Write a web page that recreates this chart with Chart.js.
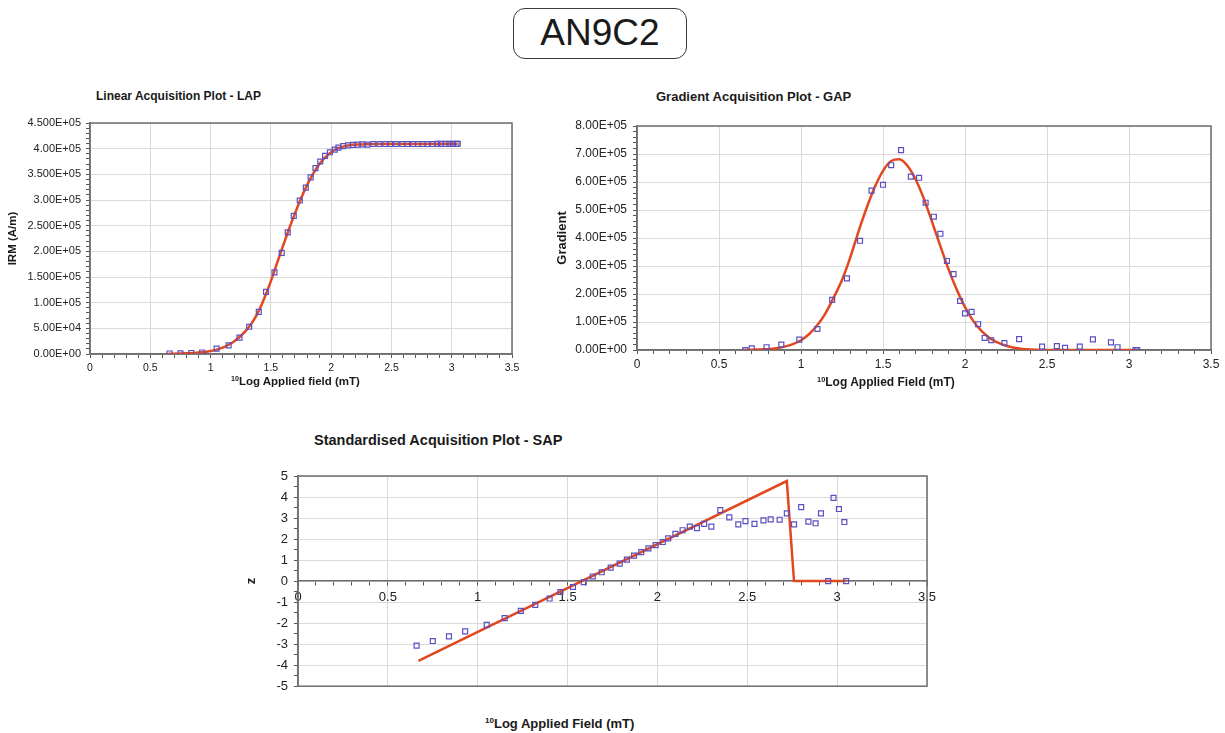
<!DOCTYPE html>
<html lang="en">
<head>
    <meta charset="UTF-8">
    <title>AN9C2 - IRM acquisition</title>
    <script src="https://cdn.jsdelivr.net/npm/chart.js"></script>
    <style>
        body { margin: 0; background: #fff; font-family: "Liberation Sans", Arial, sans-serif; color: #1a1a1a; }
        .page { position: relative; width: 1225px; height: 733px; overflow: hidden; }
        .box { position: absolute; }
        .label { position: absolute; font-weight: bold; white-space: nowrap; line-height: 1; }
        .label sup { font-size: 0.62em; position: relative; top: -0.05em; vertical-align: top; }
        .sample {
            position: absolute; left: 513px; top: 8px; width: 174px; height: 51px;
            box-sizing: border-box; border: 1.5px solid #3a3a3a; border-radius: 12px;
            text-align: center; font-size: 37px; line-height: 48px;
        }
    </style>
</head>
<body>
<div class="page">
    <div class="sample">AN9C2</div>

    <div class="label" style="left:96px; top:90px; font-size:12px;">Linear Acquisition Plot - LAP</div>
    <div class="label" style="left:656px; top:90px; font-size:13px;">Gradient Acquisition Plot - GAP</div>
    <div class="label" style="left:314px; top:433px; font-size:14.5px;">Standardised Acquisition Plot - SAP</div>

    <div class="box" style="left:0; top:110px; width:525px; height:275px;"><canvas id="lapChart"></canvas></div>
    <div class="box" style="left:540px; top:110px; width:685px; height:275px;"><canvas id="gapChart"></canvas></div>
    <div class="box" style="left:235px; top:460px; width:720px; height:240px;"><canvas id="sapChart"></canvas></div>

    <div class="label" style="left:231px; top:376px; font-size:11.5px;"><sup>10</sup>Log Applied field (mT)</div>
    <div class="label" style="left:817px; top:376px; font-size:12px;"><sup>10</sup>Log Applied Field (mT)</div>
    <div class="label" style="left:485px; top:717px; font-size:13px;"><sup>10</sup>Log Applied Field (mT)</div>
</div>

<script>
    // log10 of applied field (mT) for the measured steps
    const fieldLog = [0.66, 0.75, 0.84, 0.93, 1.05, 1.15, 1.24, 1.32, 1.40, 1.46, 1.53, 1.59, 1.64, 1.69, 1.74, 1.79,
        1.83, 1.87, 1.91, 1.95, 1.99, 2.03, 2.06, 2.10, 2.14, 2.18, 2.22, 2.26, 2.30, 2.35, 2.40, 2.45, 2.49, 2.54,
        2.59, 2.63, 2.68, 2.72, 2.76, 2.80, 2.84, 2.88, 2.91, 2.95, 2.98, 3.01, 3.04, 3.05];

    // IRM (A/m) measured at each step
    const irm = [1.0e3, 1.3e3, 2.0e3, 3.0e3, 1.04e4, 1.69e4, 3.18e4, 5.3e4, 8.2e4, 1.21e5, 1.59e5, 1.97e5, 2.37e5,
        2.69e5, 2.99e5, 3.24e5, 3.44e5, 3.62e5, 3.75e5, 3.86e5, 3.93e5, 3.98e5, 4.02e5, 4.05e5, 4.065e5, 4.075e5,
        4.08e5, 4.085e5, 4.08e5, 4.09e5, 4.09e5, 4.09e5, 4.09e5, 4.09e5, 4.09e5, 4.09e5, 4.09e5, 4.09e5, 4.09e5,
        4.09e5, 4.09e5, 4.092e5, 4.092e5, 4.092e5, 4.093e5, 4.094e5, 4.095e5, 4.095e5];

    // standardised z at each step
    const sapZ = [-3.07, -2.85, -2.63, -2.39, -2.08, -1.76, -1.42, -1.13, -0.83, -0.52, -0.28, -0.05, 0.22, 0.42,
        0.64, 0.83, 1.02, 1.21, 1.38, 1.56, 1.71, 1.86, 2.03, 2.25, 2.42, 2.59, 2.52, 2.72, 2.59, 3.38, 3.03, 2.70,
        2.85, 2.72, 2.89, 2.94, 2.92, 3.22, 2.70, 3.52, 2.83, 2.75, 3.22, 0, 3.96, 3.43, 2.81, 0];

    // gradient points
    const gapField = [0.66, 0.70, 0.79, 0.88, 0.99, 1.10, 1.19, 1.28, 1.36, 1.43, 1.50, 1.55, 1.61, 1.67, 1.72, 1.76,
        1.81, 1.85, 1.89, 1.93, 1.97, 2.00, 2.04, 2.08, 2.12, 2.16, 2.24, 2.33, 2.47, 2.56, 2.61, 2.70, 2.78, 2.89,
        2.93, 3.04, 3.05];
    const gapValue = [0, 6e3, 1.0e4, 1.9e4, 3.7e4, 7.5e4, 1.79e5, 2.56e5, 3.90e5, 5.69e5, 5.90e5, 6.60e5, 7.14e5,
        6.19e5, 6.15e5, 5.26e5, 4.76e5, 4.15e5, 3.18e5, 2.71e5, 1.75e5, 1.31e5, 1.36e5, 9.2e4, 4.3e4, 3.5e4, 2.5e4,
        3.9e4, 1.2e4, 1.4e4, 8e3, 1.2e4, 3.8e4, 2.7e4, 1.0e4, 0, 0];

    // fitted component (cumulative curve)
    const lapFitField = [0.65, 0.70, 0.75, 0.80, 0.85, 0.90, 0.95, 1.00, 1.05, 1.10, 1.15, 1.20, 1.25, 1.30, 1.35,
        1.40, 1.45, 1.50, 1.55, 1.60, 1.65, 1.70, 1.75, 1.80, 1.85, 1.90, 1.95, 2.00, 2.05, 2.10, 2.15, 2.20, 2.30,
        2.40, 2.60, 2.80, 3.05];
    const lapFit = [5e2, 7e2, 1.0e3, 1.4e3, 2.0e3, 2.8e3, 4.0e3, 5.8e3, 8.5e3, 1.25e4, 1.8e4, 2.55e4, 3.5e4, 4.75e4,
        6.3e4, 8.4e4, 1.11e5, 1.42e5, 1.76e5, 2.10e5, 2.43e5, 2.74e5, 3.03e5, 3.29e5, 3.51e5, 3.69e5, 3.83e5,
        3.93e5, 4.00e5, 4.04e5, 4.065e5, 4.08e5, 4.088e5, 4.09e5, 4.09e5, 4.092e5, 4.095e5];

    // fitted component (gradient curve)
    const gapFitField = [0.65, 0.70, 0.75, 0.80, 0.85, 0.90, 0.95, 1.00, 1.05, 1.10, 1.15, 1.20, 1.25, 1.30, 1.35,
        1.40, 1.45, 1.50, 1.55, 1.60, 1.65, 1.70, 1.75, 1.80, 1.85, 1.90, 1.95, 2.00, 2.05, 2.10, 2.15, 2.20, 2.25,
        2.30, 2.35, 2.40, 2.50, 2.60, 2.80, 3.05];
    const gapFit = [0, 1e3, 2e3, 3e3, 6e3, 1.2e4, 2.1e4, 3.5e4, 5.7e4, 8.9e4, 1.32e5, 1.88e5, 2.50e5, 3.30e5,
        4.22e5, 5.07e5, 5.82e5, 6.40e5, 6.75e5, 6.81e5, 6.57e5, 6.08e5, 5.39e5, 4.56e5, 3.71e5, 2.88e5, 2.15e5,
        1.53e5, 1.04e5, 6.8e4, 4.3e4, 2.6e4, 1.5e4, 8e3, 4e3, 2e3, 0, 0, 0, 0];

    // fitted component (standardised line)
    const sapFitField = [0.67, 2.72, 2.76, 3.05];
    const sapFit = [-3.80, 4.76, 0, 0];

    // tick labels
    const xTickLabels = ['0', '0.5', '1', '1.5', '2', '2.5', '3', '3.5'];
    const lapYTickLabels = ['0.00E+00', '5.00E+04', '1.00E+05', '1.500E+05', '2.00E+05', '2.500E+05', '3.00E+05',
        '3.500E+05', '4.00E+05', '4.500E+05'];
    const gapYTickLabels = ['0.00E+00', '1.00E+05', '2.00E+05', '3.00E+05', '4.00E+05', '5.00E+05', '6.00E+05',
        '7.00E+05', '8.00E+05'];
    const sapYTickLabels = ['-5', '-4', '-3', '-2', '-1', '0', '1', '2', '3', '4', '5'];

    Chart.defaults.font.family = '"Liberation Sans", Arial, sans-serif';
    Chart.defaults.color = '#222';

    const gridColor = '#dadada';
    const axisColor = '#6e6e6e';
    const pointColor = '#5a50c0';
    const fitColor = '#e2481f';

    const toXY = (xs, ys) => xs.map((x, i) => ({ x: x, y: ys[i] }));

    // index of a major tick, or -1 for a minor one
    function majorIndex(value, origin, major) {
        const k = Math.round((value - origin) / major);
        return Math.abs(value - origin - k * major) < major * 1e-6 ? k : -1;
    }

    // closes the plot area on all four sides
    const frame = {
        id: 'frame',
        beforeDatasetsDraw(chart) {
            const { ctx, chartArea: a } = chart;
            ctx.save();
            ctx.strokeStyle = axisColor;
            ctx.lineWidth = 1.5;
            ctx.strokeRect(a.left, a.top, a.right - a.left, a.bottom - a.top);
            ctx.restore();
        }
    };

    function axis(opts) {
        return {
            type: 'linear',
            position: opts.position,
            min: opts.min,
            max: opts.max,
            title: opts.title || { display: false },
            ticks: {
                stepSize: opts.minor,
                autoSkip: false,
                maxRotation: 0,
                padding: opts.padding,
                font: { size: opts.fontSize },
                callback: (v) => {
                    const k = majorIndex(v, opts.min, opts.major);
                    return k < 0 ? '' : opts.labels[k];
                }
            },
            grid: {
                color: (c) => majorIndex(c.tick.value, opts.min, opts.major) < 0 ? 'rgba(0,0,0,0)' : gridColor,
                lineWidth: 1,
                tickColor: '#555',
                tickLength: 4
            },
            border: { color: axisColor, width: 1.5 },
            afterFit: opts.size ? (s) => {
                if (s.isHorizontal()) s.height = opts.size; else s.width = opts.size;
            } : undefined
        };
    }

    function pointsSet(data) {
        return {
            data: data,
            pointStyle: 'rect',
            pointRadius: 3.5,
            borderColor: pointColor,
            backgroundColor: 'rgba(0,0,0,0)',
            pointBorderWidth: 1.2,
            showLine: false
        };
    }

    function fitSet(data, smooth) {
        return {
            data: data,
            showLine: true,
            pointRadius: 0,
            borderColor: fitColor,
            borderWidth: 2.5,
            cubicInterpolationMode: smooth ? 'monotone' : 'default',
            tension: 0,
            fill: false
        };
    }

    function baseOptions(padding, scales) {
        return {
            responsive: true,
            maintainAspectRatio: false,
            animation: false,
            layout: { padding: padding },
            plugins: { legend: { display: false }, tooltip: { enabled: false } },
            scales: scales
        };
    }

    // Linear Acquisition Plot
    new Chart(document.getElementById('lapChart'), {
        type: 'scatter',
        data: { datasets: [pointsSet(toXY(fieldLog, irm)), fitSet(toXY(lapFitField, lapFit), true)] },
        options: baseOptions({ top: 13, right: 13, left: 0, bottom: 0 }, {
            x: axis({ position: 'bottom', min: 0, max: 3.5, minor: 0.1, major: 0.5, labels: xTickLabels,
                fontSize: 10.5, padding: 4, size: 31 }),
            y: axis({ position: 'left', min: 0, max: 4.5e5, minor: 1e4, major: 5e4, labels: lapYTickLabels,
                fontSize: 11, padding: 5, size: 90,
                title: { display: true, text: 'IRM (A/m)', color: '#1a1a1a', font: { size: 11.5, weight: 'bold' },
                    padding: { top: 6, bottom: 0 } } })
        }),
        plugins: [frame]
    });

    // Gradient Acquisition Plot
    new Chart(document.getElementById('gapChart'), {
        type: 'scatter',
        data: { datasets: [pointsSet(toXY(gapField, gapValue)), fitSet(toXY(gapFitField, gapFit), true)] },
        options: baseOptions({ top: 16, right: 14, left: 0, bottom: 0 }, {
            x: axis({ position: 'bottom', min: 0, max: 3.5, minor: 0.1, major: 0.5, labels: xTickLabels,
                fontSize: 12, padding: 3, size: 35 }),
            y: axis({ position: 'left', min: 0, max: 8e5, minor: 2e4, major: 1e5, labels: gapYTickLabels,
                fontSize: 12, padding: 6, size: 97,
                title: { display: true, text: 'Gradient', color: '#1a1a1a', font: { size: 13, weight: 'bold' },
                    padding: { top: 15, bottom: 0 } } })
        }),
        plugins: [frame]
    });

    // Standardised Acquisition Plot, x axis crosses at z = 0
    new Chart(document.getElementById('sapChart'), {
        type: 'scatter',
        data: { datasets: [pointsSet(toXY(fieldLog, sapZ)), fitSet(toXY(sapFitField, sapFit), false)] },
        options: baseOptions({ top: 16, right: 28, left: 0, bottom: 12 }, {
            x: axis({ position: { y: 0 }, min: 0, max: 3.5, minor: 0.1, major: 0.5, labels: xTickLabels,
                fontSize: 13, padding: 5 }),
            y: axis({ position: 'left', min: -5, max: 5, minor: 0.5, major: 1, labels: sapYTickLabels,
                fontSize: 13, padding: 6, size: 63,
                title: { display: true, text: 'z', color: '#1a1a1a', font: { size: 13, weight: 'bold' },
                    padding: { top: 9, bottom: 0 } } })
        }),
        plugins: [frame]
    });
</script>
</body>
</html>
